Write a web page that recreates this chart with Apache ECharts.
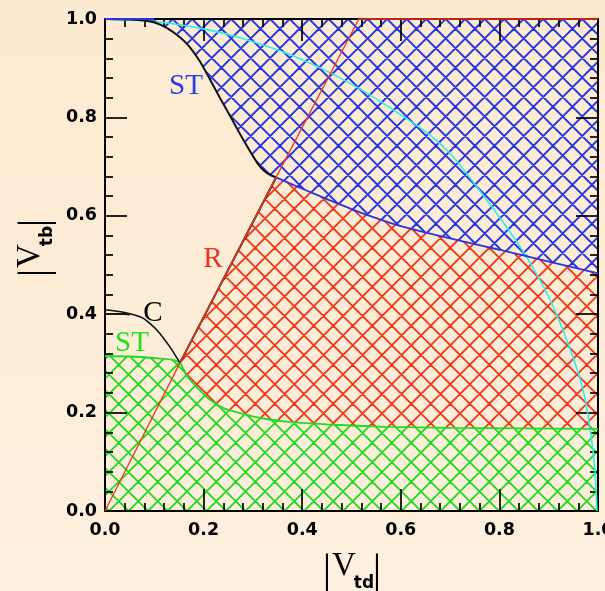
<!DOCTYPE html>
<html><head><meta charset="utf-8">
<script src="https://cdn.jsdelivr.net/npm/echarts@6/dist/echarts.min.js"></script>
<style>
html,body{margin:0;padding:0;overflow:hidden;}
body{background:linear-gradient(180deg,#fdead2 0%,#fdecd6 50%,#fef0df 100%);}
#c{width:605px;height:591px;}
</style></head>
<body><div id="c"></div>
<script>
// ---------- data ----------
const stUpperBoundary = [ // black curve, upper single-top boundary
  [0,1.0],[0.05,0.999],[0.08,0.997],[0.101,0.993],[0.125,0.982],[0.152,0.963],[0.172,0.943],
  [0.193,0.913],[0.213,0.877],[0.233,0.840],[0.257,0.797],[0.274,0.766],[0.293,0.733],
  [0.309,0.707],[0.322,0.692],[0.335,0.683],[0.347,0.678]
];
const stUpperLower = [ // blue lower edge of upper ST region
  [0.347,0.678],[0.40,0.655],[0.455,0.632],[0.52,0.606],[0.60,0.579],[0.70,0.554],
  [0.80,0.531],[0.90,0.507],[1.0,0.483]
];
const stLowerTop = [ // green upper edge of lower ST region
  [0,0.315],[0.05,0.314],[0.10,0.311],[0.132,0.308],[0.152,0.301],[0.166,0.275],
  [0.186,0.252],[0.213,0.226],[0.240,0.209],[0.274,0.199],[0.321,0.188],[0.375,0.181],
  [0.45,0.176],[0.57,0.171],[0.70,0.169],[0.85,0.168],[1.0,0.167]
];
const rLine = [[0,0],[0.152,0.301],[0.347,0.678],[0.515,1.0],[1.0,1.0]];
const rBlackEdge = [[0.152,0.301],[0.347,0.678]];
const cCurve = [[0,0.409],[0.037,0.404],[0.077,0.392],[0.105,0.368],[0.132,0.333],[0.152,0.301]];
const cCurve2 = [[0,0.401],[0.03,0.401],[0.05,0.399]];
const stTopEdge = [[0,1.0],[0.10,1.0]];
const unitarity = [
  [0,1.0],[0.10,0.995],[0.20,0.98],[0.274,0.962],[0.375,0.928],[0.452,0.893],[0.52,0.856],
  [0.57,0.825],[0.649,0.772],[0.70,0.727],[0.761,0.650],[0.821,0.568],[0.862,0.505],
  [0.903,0.429],[0.943,0.330],[0.970,0.245],[0.985,0.160],[0.994,0.080],[0.998,0.0]
];
const tickLabels = ['0.0','0.2','0.4','0.6','0.8','1.0'];

// ---------- hatch patterns ----------
function hatch(color, aOff, bOff) {
  const P = 19.5, T = 39;
  const c = document.createElement('canvas');
  c.width = T; c.height = T;
  const g = c.getContext('2d');
  g.strokeStyle = color; g.lineWidth = 1.9; g.lineCap = 'butt';
  g.beginPath();
  for (let k = -4; k <= 4; k++) {
    const a = aOff + k * P;
    g.moveTo(a - 5, -5); g.lineTo(a + T + 5, T + 5);
    const b = bOff + k * P;
    g.moveTo(b + 5, -5); g.lineTo(b - T - 5, T + 5);
  }
  g.stroke();
  return c;
}
const BLUE = 'rgb(38,54,226)', RED = 'rgb(242,56,26)', GREEN = 'rgb(34,218,34)', CYAN = 'rgb(40,240,240)';
const blueHatch = hatch(BLUE, 17.2, 16.2);
const redHatch = hatch(RED, 7.5, 15.5);
const greenHatch = hatch(GREEN, 7.5, 15.5);

const bluePoly = stUpperBoundary.concat(stUpperLower.slice(1), [[1, 1]]);
const redPoly = stUpperLower.concat(stLowerTop.filter(p => p[0] >= 0.152).reverse());
const greenPoly = [[0, 0], [1, 0]].concat(stLowerTop.slice().reverse());

function region(poly, img, z) {
  return {
    type: 'custom', coordinateSystem: 'cartesian2d', data: poly, encode: {x: 0, y: 1},
    z: z, silent: true, animation: false,
    renderItem: function (params, api) {
      if (params.dataIndex !== 0) return null;
      return {type: 'polygon', shape: {points: poly.map(p => api.coord(p))},
        style: {fill: {image: img, repeat: 'repeat'}, stroke: null}};
    }
  };
}
function curve(data, color, width, z, smooth) {
  return {type: 'line', data: data, showSymbol: false, symbol: 'none',
    smooth: smooth || false,
    lineStyle: {color: color, width: width}, itemStyle: {color: color},
    z: z, silent: true, animation: false, clip: false};
}

const axisCommon = {
  type: 'value', min: 0, max: 1, interval: 0.2, z: 10,
  axisLine: {show: true, onZero: false, lineStyle: {color: '#000', width: 2}},
  axisTick: {show: true, inside: true, length: 22, lineStyle: {color: '#000', width: 1.7}},
  minorTick: {show: true, splitNumber: 5, length: 8, lineStyle: {color: '#000', width: 1.7}},
  splitLine: {show: false}, minorSplitLine: {show: false}
};
const labelStyle = {color: '#000', fontSize: 17.5, fontWeight: 'bold', fontFamily: 'DejaVu Sans',
  formatter: v => tickLabels[Math.round(v / 0.2)]};

const chart = echarts.init(document.getElementById('c'), null, {renderer: 'canvas'});
chart.setOption({
  backgroundColor: 'transparent',
  animation: false,
  grid: {left: 105, right: 7, top: 19, bottom: 80, containLabel: false, outerBoundsMode: 'none'},
  xAxis: [
    Object.assign({}, axisCommon, {position: 'bottom', axisLabel: Object.assign({margin: 10}, labelStyle)}),
    Object.assign({}, axisCommon, {position: 'top', axisLabel: {show: false}})
  ],
  yAxis: [
    Object.assign({}, axisCommon, {position: 'left', axisLabel: Object.assign({margin: 8}, labelStyle)}),
    Object.assign({}, axisCommon, {position: 'right', axisLabel: {show: false}})
  ],
  series: [
    region(greenPoly, greenHatch, 2),
    region(redPoly, redHatch, 2),
    region(bluePoly, blueHatch, 2),
    curve(unitarity, CYAN, 1.6, 20, 0.2),
    curve(stLowerTop, GREEN, 1.8, 21, 0.2),
    curve(stUpperLower, BLUE, 1.8, 21, 0.2),
    curve(rLine, RED, 1.3, 30),
    curve(stUpperBoundary, '#111', 2, 22, 0.2),
    curve(rBlackEdge, '#111', 2, 22),
    curve(cCurve, '#111', 1.6, 22, 0.2),
    curve(cCurve2, '#111', 1.4, 22),
    curve(stTopEdge, BLUE, 2, 23)
  ],
  graphic: [
    {type: 'text', x: 186, y: 86, z: 50, style: {text: 'ST', fill: 'rgb(40,60,230)', font: '29px "Liberation Serif"', align: 'center', verticalAlign: 'middle'}},
    {type: 'text', x: 213, y: 259, z: 50, style: {text: 'R', fill: 'rgb(240,50,30)', font: '29px "Liberation Serif"', align: 'center', verticalAlign: 'middle'}},
    {type: 'text', x: 153, y: 313, z: 50, style: {text: 'C', fill: '#000', font: '29px "Liberation Serif"', align: 'center', verticalAlign: 'middle'}},
    {type: 'text', x: 132, y: 343, z: 50, style: {text: 'ST', fill: 'rgb(30,225,30)', font: '29px "Liberation Serif"', align: 'center', verticalAlign: 'middle'}},
    {type: 'group', x: 352, y: 571, z: 50, children: [
      {type: 'text', x: -25, y: 1, style: {text: '|', fill: '#000', font: '42px "Liberation Serif"', align: 'center', verticalAlign: 'middle'}},
      {type: 'text', x: -8, y: -5, style: {text: 'V', fill: '#000', font: '33px "Liberation Serif"', align: 'center', verticalAlign: 'middle'}},
      {type: 'text', x: 12, y: 13, style: {text: 'td', fill: '#000', font: 'bold 17px "DejaVu Sans"', align: 'center', verticalAlign: 'middle'}},
      {type: 'text', x: 25, y: 1, style: {text: '|', fill: '#000', font: '42px "Liberation Serif"', align: 'center', verticalAlign: 'middle'}}
    ]},
    {type: 'group', x: 35, y: 248, rotation: Math.PI / 2, z: 50, children: [
      {type: 'text', x: -25, y: 1, style: {text: '|', fill: '#000', font: '42px "Liberation Serif"', align: 'center', verticalAlign: 'middle'}},
      {type: 'text', x: -8, y: -5, style: {text: 'V', fill: '#000', font: '33px "Liberation Serif"', align: 'center', verticalAlign: 'middle'}},
      {type: 'text', x: 12, y: 13, style: {text: 'tb', fill: '#000', font: 'bold 17px "DejaVu Sans"', align: 'center', verticalAlign: 'middle'}},
      {type: 'text', x: 25, y: 1, style: {text: '|', fill: '#000', font: '42px "Liberation Serif"', align: 'center', verticalAlign: 'middle'}}
    ]}
  ]
});
</script>
</body></html>
